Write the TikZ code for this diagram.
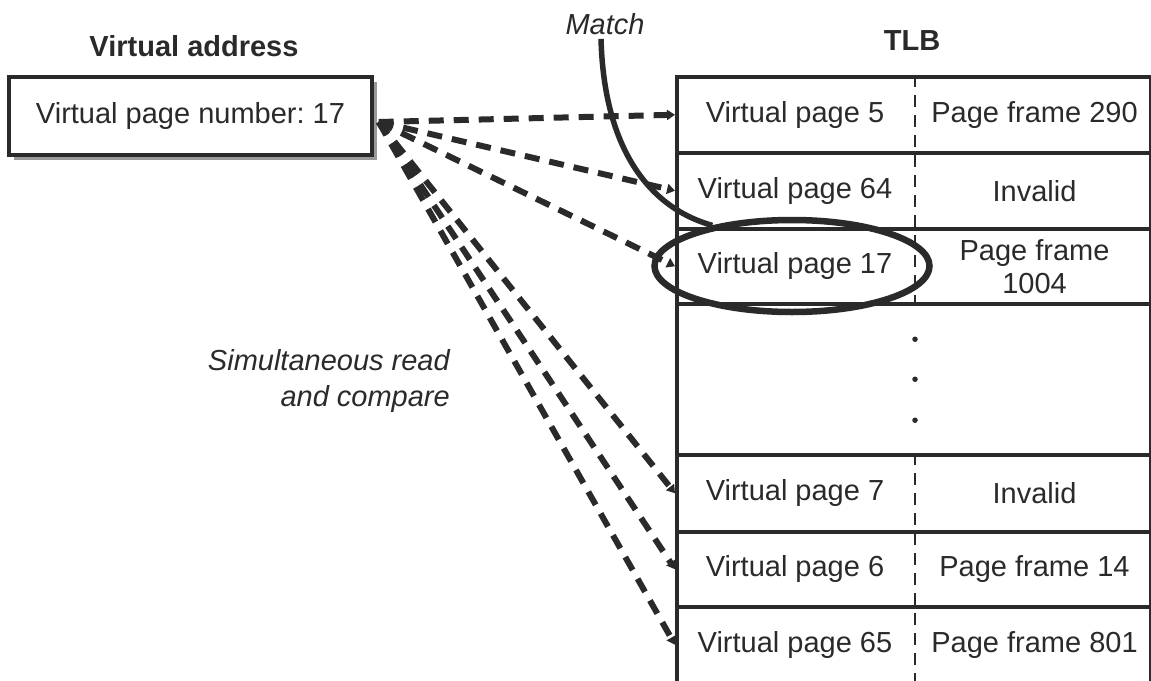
\documentclass[tikz,border=0pt]{standalone}
\usepackage{fontspec}
\setmainfont{Liberation Sans}
\usetikzlibrary{arrows.meta,shapes.geometric,shadows}
\definecolor{ink}{HTML}{2A2A2A}
\frenchspacing
\begin{document}
\begin{tikzpicture}[x=1pt,y=-1pt,
  txt/.style={text=ink,font=\fontsize{29}{33}\selectfont,inner sep=0pt},
  boldtxt/.style={text=ink,font=\fontsize{29}{33}\selectfont\bfseries,inner sep=0pt},
  ittxt/.style={text=ink,font=\fontsize{29}{36}\selectfont\itshape,inner sep=0pt},
  row/.style={draw=ink,line width=3.5pt,minimum width=474pt,inner sep=0pt,anchor=north west},
  divider/.style={draw=ink,line width=2.2pt,dash pattern=on 12pt off 8pt},
  probe/.style={draw=ink,line width=6pt,dash pattern=on 15pt off 10pt,
    -{Triangle[length=8pt,width=10pt]}},
  dotmark/.style={circle,fill=ink,inner sep=0pt,minimum size=5.5pt},
  vpbox/.style={draw=ink,line width=3.5pt,fill=white,minimum width=363pt,minimum height=78pt,
    inner sep=0pt,text=ink,font=\fontsize{29}{33}\selectfont,
    drop shadow={shadow xshift=5pt,shadow yshift=-5pt,fill=black!40,opacity=1}},
  ring/.style={draw=ink,line width=6.5pt,ellipse,inner sep=0pt,minimum width=275pt,minimum height=92pt},
  matchline/.style={draw=ink,line width=5.5pt}
]
\useasboundingbox (0,0) rectangle (1151,680);

% Virtual address
\node[boldtxt] (valbl) at (194,46) {Virtual address};
\node[vpbox] (vpn) at (190.5,116) {Virtual page number: 17};

% TLB table rows
\node[boldtxt] (tlb) at (912,41) {TLB};
\node[row,minimum height=76pt] (r1) at (675,75) {};
\node[row,minimum height=76pt] (r2) at (675,151) {};
\node[row,minimum height=75pt] (r3) at (675,227) {};
\node[row,minimum height=151pt] (r4) at (675,302) {};
\node[row,minimum height=77pt] (r5) at (675,453) {};
\node[row,minimum height=75pt] (r6) at (675,530) {};
\node[row,minimum height=76pt] (r7) at (675,605) {};

\draw[divider] ([xshift=240pt]r1.north west) -- ([xshift=240pt]r3.south west);
\draw[divider] ([xshift=240pt]r5.north west) -- ([xshift=240pt]r7.south west);

% cell texts
\node[txt] (v1) at ([xshift=120pt]r1.west) {Virtual page 5};
\node[txt] (f1) at ([xshift=-118pt]r1.east) {Page frame 290};
\node[txt] (v2) at ([xshift=120pt]r2.west) {Virtual page 64};
\node[txt] (f2) at ([xshift=-118pt]r2.east) {Invalid};
\node[txt] (v3) at ([xshift=120pt]r3.west) {Virtual page 17};
\node[txt,align=center] (f3) at ([xshift=-118pt]r3.east) {Page frame\\1004};
\node[txt] (v5) at ([xshift=120pt]r5.west) {Virtual page 7};
\node[txt] (f5) at ([xshift=-118pt]r5.east) {Invalid};
\node[txt] (v6) at ([xshift=120pt]r6.west) {Virtual page 6};
\node[txt] (f6) at ([xshift=-118pt]r6.east) {Page frame 14};
\node[txt] (v7) at ([xshift=120pt]r7.west) {Virtual page 65};
\node[txt] (f7) at ([xshift=-118pt]r7.east) {Page frame 801};

% dots
\node[dotmark] (d1) at ([xshift=240pt,yshift=40pt]r4.west) {};
\node[dotmark] (d2) at ([xshift=240pt]r4.west) {};
\node[dotmark] (d3) at ([xshift=240pt,yshift=-41pt]r4.west) {};

% match ellipse and curve
\node[ring] (ell) at (792,266) {};
\node[ittxt] (match) at (605,24) {Match};
\draw[matchline] ([xshift=-4pt,yshift=-4pt]match.south) .. controls (604,150) and (650,208) .. (ell.153);

% simultaneous read and compare
\node[ittxt,align=right,anchor=east] (sim) at (450,381) {Simultaneous read\\and compare};

% dashed probes
\coordinate (src) at ([xshift=5pt,yshift=-6pt]vpn.east);
\draw[probe] (src) -- (r1.west);
\draw[probe] (src) -- (r2.west);
\draw[probe] (src) -- (r3.west);
\draw[probe] (src) -- (r5.west);
\draw[probe] (src) -- (r6.west);
\draw[probe] (src) -- (r7.west);
\end{tikzpicture}
\end{document}
